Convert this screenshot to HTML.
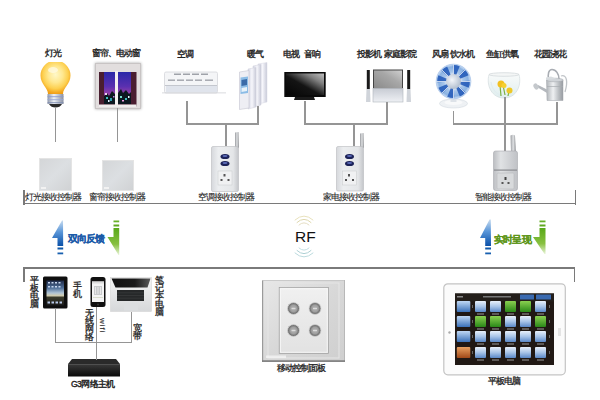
<!DOCTYPE html>
<html><head><meta charset="utf-8">
<style>
*{margin:0;padding:0;box-sizing:border-box}
html,body{width:600px;height:400px;overflow:hidden;background:#fff}
body{position:relative;font-family:"Liberation Sans",sans-serif;color:#2a2a2a}
.a{position:absolute}
.t{position:absolute;font-size:8.5px;line-height:9px;white-space:nowrap;letter-spacing:-1px;color:#1e1e1e;-webkit-text-stroke:0.1px #1e1e1e}
.v{position:absolute;font-size:8.5px;line-height:8px;width:9px;white-space:normal;word-break:break-all;text-align:center;color:#1e1e1e;-webkit-text-stroke:0.3px #1e1e1e}
.ln{position:absolute;background:#959595}
</style></head><body>

<!-- top labels -->
<div class="t" style="left:45px;top:49px;-webkit-text-stroke:0.35px #222">灯光</div>
<div class="t" style="left:92px;top:49px;-webkit-text-stroke:0.35px #222">窗帘、电动窗</div>
<div class="t" style="left:177px;top:50px;-webkit-text-stroke:0.35px #222">空调</div>
<div class="t" style="left:247px;top:50px;-webkit-text-stroke:0.35px #222">暖气</div>
<div class="t" style="left:283px;top:50px;word-spacing:4px;-webkit-text-stroke:0.35px #222">电视 音响</div>
<div class="t" style="left:357px;top:50px;word-spacing:1.5px;-webkit-text-stroke:0.35px #222">投影机 家庭影院</div>
<div class="t" style="left:432px;top:50px;word-spacing:1px;-webkit-text-stroke:0.35px #222">风扇 饮水机</div>
<div class="t" style="left:486px;top:50px;-webkit-text-stroke:0.35px #222">鱼缸供氧</div>
<div class="t" style="left:534px;top:50px;-webkit-text-stroke:0.35px #222">花园浇花</div>


<!-- bulb -->
<svg class="a" style="left:40px;top:62px" width="32" height="48" viewBox="0 0 32 48">
<defs>
<radialGradient id="bg1" cx="0.5" cy="0.42" r="0.6">
<stop offset="0" stop-color="#fff8c8"/><stop offset="0.4" stop-color="#ffe890"/><stop offset="0.7" stop-color="#fdd050"/><stop offset="0.9" stop-color="#f4a820"/><stop offset="1" stop-color="#ec9a16"/></radialGradient>
<linearGradient id="bb1" x1="0" x2="1"><stop offset="0" stop-color="#9098a8"/><stop offset="0.4" stop-color="#eef2f6"/><stop offset="1" stop-color="#8a90a0"/></linearGradient>
</defs>
<path d="M8,32 C8,26 0.5,22 0.5,13.5 A15,15 0 0 1 30.5,13.5 C30.5,22 23,26 23,32 Z" fill="url(#bg1)"/>
<rect x="7.5" y="32" width="16" height="10" fill="url(#bb1)"/>
<rect x="7.5" y="34" width="16" height="1.2" fill="#8a9ad0" opacity="0.7"/>
<rect x="7.5" y="37" width="16" height="1.2" fill="#98a8d8" opacity="0.7"/>
<rect x="7.5" y="40" width="16" height="1.2" fill="#7a8ab0" opacity="0.7"/>
<ellipse cx="13" cy="8" rx="5" ry="3" fill="#fffbe8" opacity="0.7"/>
<path d="M9,42 L22,42 Q20,45.5 15.5,45.5 Q11,45.5 9,42Z" fill="#2a2a2a"/>
</svg>

<!-- window -->
<svg class="a" style="left:95px;top:63px;filter:drop-shadow(0 0 1.5px rgba(0,0,0,0.35))" width="46" height="46" viewBox="0 0 46 46">
<defs>
<linearGradient id="sky" x1="0" y1="0" x2="0" y2="1"><stop offset="0" stop-color="#2a28a8"/><stop offset="0.45" stop-color="#5a30b0"/><stop offset="0.7" stop-color="#9a40a8"/><stop offset="1" stop-color="#203040"/></linearGradient>
</defs>
<rect x="0.5" y="0.5" width="45" height="45" fill="#e2dede" stroke="#c8c4c4"/>
<rect x="4" y="9" width="37.5" height="34.5" fill="#4a1e30"/>
<rect x="9" y="9" width="11" height="32" fill="url(#sky)"/>
<rect x="23" y="9" width="13" height="32" fill="url(#sky)"/>
<path d="M9,41 L9,33 L12,30 L14,33 L17,28 L20,31 L20,41Z" fill="#0c1820"/>
<path d="M23,41 L23,30 L26,26 L28,30 L31,27 L34,31 L36,29 L36,41Z" fill="#0c1820"/>
<rect x="11" y="34" width="2" height="2" fill="#40c0c0"/><rect x="15" y="35" width="2" height="3" fill="#30a0b0"/>
<rect x="25" y="33" width="2" height="2" fill="#70e0d0"/><rect x="30" y="35" width="2" height="2" fill="#40c0c0"/>
<rect x="10" y="30" width="2" height="2" fill="#f0d0f0"/><rect x="13" y="37" width="1.5" height="2" fill="#e0f0ff"/><rect x="27" y="37" width="2" height="1.5" fill="#f0a0e0"/><rect x="33" y="33" width="1.5" height="2" fill="#e0f8ff"/><rect x="18" y="33" width="1.5" height="1.5" fill="#c080e0"/>
<rect x="20" y="8" width="3" height="34" fill="#f4f0f0"/>
<rect x="4" y="41.5" width="37.5" height="2.5" fill="#f0eeee"/>
</svg>

<!-- AC -->
<svg class="a" style="left:162px;top:70px" width="64" height="27" viewBox="0 0 64 27">
<rect x="2.5" y="2" width="53" height="21" rx="1.5" fill="#f4f5f7" stroke="#d4d6da" stroke-width="0.8"/>
<g fill="#8a8e96"><rect x="12" y="3.6" width="7" height="1.2"/><rect x="21" y="3.6" width="7" height="1.2"/><rect x="30" y="3.6" width="7" height="1.2"/><rect x="39" y="3.6" width="7" height="1.2"/>
<rect x="6" y="9.6" width="7" height="1.1"/><rect x="15" y="9.6" width="7" height="1.1"/><rect x="24" y="9.6" width="7" height="1.1"/><rect x="33" y="9.6" width="7" height="1.1"/><rect x="43" y="9.6" width="8" height="1.1"/></g>
<rect x="3" y="15" width="52" height="0.8" fill="#b8bcc4"/>
<rect x="4" y="16" width="51" height="6" fill="#e0e4ec"/>
<rect x="0" y="22.5" width="64" height="0.8" fill="#d0d2d6"/>
</svg>

<!-- radiator -->
<svg class="a" style="left:238px;top:61px" width="32" height="50" viewBox="0 0 32 50">
<defs><linearGradient id="fin" x1="0" x2="1"><stop offset="0" stop-color="#d4d6e4"/><stop offset="0.5" stop-color="#f6f6fb"/><stop offset="1" stop-color="#c8cad8"/></linearGradient></defs>
<path d="M20,3 L29,1.5 L29,41 L20,43Z" fill="url(#fin)" stroke="#d8d8e4" stroke-width="0.5"/>
<path d="M15,5 L23,3.5 L23,44 L15,46Z" fill="url(#fin)" stroke="#d0d0dc" stroke-width="0.5"/>
<path d="M10,8 L18,6.5 L18,46 L10,48Z" fill="url(#fin)" stroke="#d0d0dc" stroke-width="0.5"/>
<path d="M1.5,11 L11,9.5 L11,47 L1.5,48.5Z" fill="#eeeef4" stroke="#c4c4d0" stroke-width="0.6"/>
<path d="M2.5,16.5 L10,15.5 L10,32 L2.5,33Z" fill="#8cbce6"/>
<path d="M3.5,19 L9,18 L9,24 L3.5,25Z" fill="#3a6aa8"/>
<path d="M3.5,27 L9,26 L9,30 L3.5,31Z" fill="#e8f2fa"/>
</svg>

<!-- TV -->
<svg class="a" style="left:284px;top:71px" width="42" height="30" viewBox="0 0 42 30">
<defs><linearGradient id="tvg" x1="0" y1="1" x2="1" y2="0"><stop offset="0" stop-color="#050505"/><stop offset="0.45" stop-color="#141414"/><stop offset="0.75" stop-color="#808080"/><stop offset="1" stop-color="#c0c0c0"/></linearGradient></defs>
<rect x="0.3" y="1" width="41.4" height="25" fill="#0a0a0a"/>
<rect x="2" y="2.5" width="38" height="21.5" fill="url(#tvg)"/>
<path d="M11,26 L30,26 L31,29 L10,29Z" fill="#1a1a1a"/>
</svg>

<!-- projector + speakers -->
<svg class="a" style="left:366px;top:69px" width="46" height="35" viewBox="0 0 46 35">
<defs><linearGradient id="pjs" x1="0" y1="1" x2="1" y2="0"><stop offset="0" stop-color="#8a8a8a"/><stop offset="0.6" stop-color="#a8a8a8"/><stop offset="1" stop-color="#d0d0d0"/></linearGradient>
<linearGradient id="pjb" x1="0" y1="0" x2="0" y2="1"><stop offset="0" stop-color="#c8ccd4"/><stop offset="1" stop-color="#eef0f4"/></linearGradient></defs>
<rect x="7" y="0.5" width="30" height="19" fill="#444"/>
<rect x="8" y="1.5" width="28" height="17.5" fill="url(#pjs)"/>
<rect x="7" y="19.5" width="30" height="13.5" fill="url(#pjb)" stroke="#b0b4bc" stroke-width="0.6"/>
<rect x="0.8" y="1" width="3" height="19" fill="#1a1a1a"/>
<path d="M0.5,20 L4,20 L4.5,33 L0,33Z" fill="#d0d4da"/>
<rect x="41.2" y="1" width="3" height="19" fill="#1a1a1a"/>
<path d="M41,20 L44.5,20 L45,33 L40.5,33Z" fill="#d0d4da"/>
</svg>

<!-- fan -->
<svg class="a" style="left:434px;top:63px" width="40" height="48" viewBox="0 0 40 48">
<defs><radialGradient id="fanb" cx="0.5" cy="0.5" r="0.5"><stop offset="0.4" stop-color="#e0e8f4"/><stop offset="0.55" stop-color="#a8c6ea"/><stop offset="0.85" stop-color="#8ab2e2"/><stop offset="1" stop-color="#d0e0f4"/></radialGradient>
<radialGradient id="fanc" cx="0.4" cy="0.4" r="0.6"><stop offset="0" stop-color="#f4f6fa"/><stop offset="1" stop-color="#b4c0d0"/></radialGradient></defs>
<ellipse cx="19.5" cy="40.5" rx="14" ry="4.5" fill="#eef1f4" stroke="#d4dae0" stroke-width="0.6"/>
<ellipse cx="19.5" cy="39.5" rx="9" ry="2.5" fill="#f8f9fa"/>
<rect x="16.5" y="33" width="6" height="6" fill="#dde2e8"/>
<circle cx="19.5" cy="18.5" r="17.3" fill="url(#fanb)"/>
<g fill="#2058b8" opacity="0.85">
<path d="M19.5,18.5 L16,2.5 Q20,1.5 23,2.5Z" transform="rotate(10 19.5 18.5)"/>
<path d="M19.5,18.5 L16,2.5 Q20,1.5 23,2.5Z" transform="rotate(55 19.5 18.5)"/>
<path d="M19.5,18.5 L16,2.5 Q20,1.5 23,2.5Z" transform="rotate(100 19.5 18.5)"/>
<path d="M19.5,18.5 L16,2.5 Q20,1.5 23,2.5Z" transform="rotate(145 19.5 18.5)"/>
<path d="M19.5,18.5 L16,2.5 Q20,1.5 23,2.5Z" transform="rotate(190 19.5 18.5)"/>
<path d="M19.5,18.5 L16,2.5 Q20,1.5 23,2.5Z" transform="rotate(235 19.5 18.5)"/>
<path d="M19.5,18.5 L16,2.5 Q20,1.5 23,2.5Z" transform="rotate(280 19.5 18.5)"/>
<path d="M19.5,18.5 L16,2.5 Q20,1.5 23,2.5Z" transform="rotate(325 19.5 18.5)"/>
</g>
<g stroke="#f0f5fc" stroke-width="0.9" opacity="0.85">
<line x1="19.5" y1="1" x2="19.5" y2="36"/><line x1="2" y1="18.5" x2="37" y2="18.5"/>
<line x1="7.1" y1="6.1" x2="31.9" y2="30.9"/><line x1="31.9" y1="6.1" x2="7.1" y2="30.9"/>
</g>
<circle cx="19.5" cy="18.5" r="17.3" fill="none" stroke="#a8c4e8" stroke-width="0.8"/>
<circle cx="19.5" cy="18.5" r="7.5" fill="url(#fanc)"/>
</svg>

<!-- fishbowl -->
<svg class="a" style="left:487px;top:72px" width="34" height="28" viewBox="0 0 34 28">
<defs><linearGradient id="fbw" x1="0" y1="0" x2="0" y2="1"><stop offset="0" stop-color="#f8fafa"/><stop offset="1" stop-color="#dfeeee"/></linearGradient></defs>
<path d="M2,2.5 C-1,14 5,26 17,26 C29,26 35,14 32,2.5" fill="url(#fbw)" stroke="#d8e0e2" stroke-width="0.8"/>
<ellipse cx="17" cy="2.5" rx="15" ry="1.8" fill="#f4f6f6" stroke="#d0d6d8" stroke-width="0.7"/>
<path d="M4,10 C5,18 10,23 17,24" fill="none" stroke="#e0ecf0" stroke-width="1"/>
<path d="M13,13 L14,24 M16,13 L18,23 M22,19 L21,24" stroke="#7cb040" stroke-width="1.2" fill="none"/>
<circle cx="14" cy="12" r="3.5" fill="#f2c020"/><circle cx="17" cy="13.5" r="2.5" fill="#f6d030"/>
<circle cx="22.5" cy="18.5" r="3" fill="#eec828"/>
</svg>

<!-- watering can -->
<svg class="a" style="left:532px;top:68px" width="40" height="36" viewBox="0 0 40 36">
<defs><linearGradient id="wc" x1="0" x2="1"><stop offset="0" stop-color="#b0b4b8"/><stop offset="0.4" stop-color="#eef0f2"/><stop offset="0.75" stop-color="#b8bcc0"/><stop offset="1" stop-color="#989ca2"/></linearGradient></defs>
<path d="M17,12 C15,6 17,1.5 20,1.5 C24,1.5 27,6 27,11" fill="none" stroke="#a8acb2" stroke-width="1.6"/>
<path d="M29,8 C35,6 36,14 33,24" fill="none" stroke="#c0c4c8" stroke-width="1.3"/>
<path d="M14.5,12 L31,12 L31,32.5 L15,32.5Z" fill="url(#wc)" stroke="#a0a4aa" stroke-width="0.5"/>
<ellipse cx="23" cy="12" rx="8.3" ry="1.8" fill="#d0d4d8" stroke="#a0a4aa" stroke-width="0.5"/>
<path d="M14,9.5 L19,8.5 L25,11 L14,12Z" fill="#d8dcdf"/>
<rect x="15" y="18" width="16" height="0.7" fill="#a8acb0"/>
<path d="M15,25 L5,19 L6,17 L15,21.5Z" fill="#b4b8bd"/>
<ellipse cx="4" cy="18.5" rx="2.3" ry="3.3" fill="#c4c8cc" transform="rotate(-30 4 18.5)"/>
</svg>

<!-- lines top -->
<div class="ln" style="left:54.8px;top:108px;width:1.5px;height:34px"></div>
<div class="ln" style="left:116.8px;top:108px;width:1.5px;height:34px"></div>
<div class="ln" style="left:186.3px;top:101px;width:1.6px;height:23.5px"></div>
<div class="ln" style="left:186.3px;top:123px;width:72.5px;height:1.7px"></div>
<div class="ln" style="left:257.3px;top:106px;width:1.6px;height:18.5px"></div>
<div class="ln" style="left:225.3px;top:123px;width:1.6px;height:23px"></div>
<div class="ln" style="left:304.3px;top:101px;width:1.6px;height:23.5px"></div>
<div class="ln" style="left:304.3px;top:123px;width:83.5px;height:1.7px"></div>
<div class="ln" style="left:386.3px;top:102px;width:1.6px;height:22.5px"></div>
<div class="ln" style="left:353px;top:123px;width:1.6px;height:23px"></div>
<div class="ln" style="left:452.5px;top:111px;width:1.6px;height:13.5px"></div>
<div class="ln" style="left:452.5px;top:123px;width:105px;height:1.7px"></div>
<div class="ln" style="left:556px;top:102px;width:1.6px;height:22.5px"></div>
<div class="ln" style="left:504.2px;top:97px;width:1.6px;height:54px"></div>


<!-- switch panels -->
<div class="a" style="left:39px;top:158px;width:33px;height:33px;background:linear-gradient(135deg,#d4d6d8,#dcdfe2 50%,#d0d2d4);border:0.5px solid #e4e4e4"></div>
<div class="a" style="left:41px;top:187px;width:5px;height:1.5px;background:#f2f2f2"></div>
<div class="a" style="left:102px;top:160px;width:32px;height:31px;background:linear-gradient(135deg,#d4d6d8,#dcdfe2 50%,#d0d2d4);border:0.5px solid #e4e4e4"></div>
<div class="a" style="left:104px;top:187px;width:5px;height:1.5px;background:#f2f2f2"></div>

<!-- controller 1 -->
<svg class="a" style="left:210px;top:131px" width="32" height="62" viewBox="0 0 32 62">
<defs><linearGradient id="cb" x1="0" x2="1"><stop offset="0" stop-color="#d6d8dc"/><stop offset="0.25" stop-color="#eceef0"/><stop offset="0.8" stop-color="#e4e6e8"/><stop offset="1" stop-color="#c4c6ca"/></linearGradient>
<linearGradient id="ant" x1="0" x2="1"><stop offset="0" stop-color="#9a9ca0"/><stop offset="0.5" stop-color="#e0e2e4"/><stop offset="1" stop-color="#8a8c90"/></linearGradient></defs>
<path d="M25,1.5 L28.5,1 L29,17 L25,17Z" fill="url(#ant)"/>
<rect x="1.5" y="15.5" width="27" height="45" rx="1.5" fill="url(#cb)" stroke="#b8babe" stroke-width="0.6"/>
<ellipse cx="15" cy="25.5" rx="4.5" ry="2.6" fill="#1c2258"/><ellipse cx="15" cy="25" rx="2.5" ry="1" fill="#5a6ab8"/>
<ellipse cx="15" cy="32.5" rx="4.5" ry="2.6" fill="#1c2258"/><ellipse cx="15" cy="32" rx="2.5" ry="1" fill="#5a6ab8"/>
<rect x="8" y="40" width="14" height="14" fill="#f0f1f2" stroke="#c8cacc" stroke-width="0.5"/>
<rect x="13.5" y="43" width="2" height="2.5" fill="#555"/><rect x="10.5" y="48" width="2" height="2" fill="#555"/><rect x="17.5" y="48" width="2" height="2" fill="#555"/>
</svg>

<!-- controller 2 -->
<svg class="a" style="left:335px;top:131px" width="32" height="62" viewBox="0 0 32 62">
<path d="M25,2.5 L28.5,2 L29,17 L25,17Z" fill="url(#ant)"/>
<rect x="1.5" y="15.5" width="27" height="44.5" rx="1.5" fill="url(#cb)" stroke="#b8babe" stroke-width="0.6"/>
<ellipse cx="14.5" cy="25.5" rx="4.5" ry="2.6" fill="#1c2258"/><ellipse cx="14.5" cy="25" rx="2.5" ry="1" fill="#5a6ab8"/>
<ellipse cx="14.5" cy="32.5" rx="4.5" ry="2.6" fill="#1c2258"/><ellipse cx="14.5" cy="32" rx="2.5" ry="1" fill="#5a6ab8"/>
<rect x="7.5" y="40" width="14" height="14" fill="#f0f1f2" stroke="#c8cacc" stroke-width="0.5"/>
<rect x="13" y="43" width="2" height="2.5" fill="#555"/><rect x="10" y="48" width="2" height="2" fill="#555"/><rect x="17" y="48" width="2" height="2" fill="#555"/>
</svg>

<!-- controller 3 -->
<svg class="a" style="left:492px;top:134px" width="28" height="58" viewBox="0 0 28 58">
<defs><linearGradient id="cb3" x1="0" x2="1"><stop offset="0" stop-color="#bcbec2"/><stop offset="0.3" stop-color="#e0e2e4"/><stop offset="1" stop-color="#c0c2c6"/></linearGradient></defs>
<path d="M18.5,1.5 Q21,0 23,1.5 L24,19 L19,19Z" fill="url(#ant)"/>
<rect x="1.5" y="17" width="24" height="39.5" rx="2" fill="url(#cb3)" stroke="#a8aaae" stroke-width="0.6"/>
<rect x="2" y="35.5" width="23" height="1.2" fill="#8a8c90"/>
<rect x="5" y="39" width="17" height="16" rx="1" fill="#d8dadc" stroke="#b0b2b6" stroke-width="0.5"/>
<rect x="12.5" y="43" width="2" height="3" fill="#444"/><rect x="9.5" y="48" width="2" height="2" fill="#555"/><rect x="15.5" y="48" width="2" height="2" fill="#555"/>
</svg>

<!-- left arrows -->
<svg class="a" style="left:50px;top:218px" width="75" height="40" viewBox="0 0 75 40">
<defs><linearGradient id="bl" x1="0" y1="0" x2="0" y2="1"><stop offset="0" stop-color="#c8dcf0"/><stop offset="0.45" stop-color="#5a96d8"/><stop offset="1" stop-color="#0a50a8"/></linearGradient>
<linearGradient id="gr" x1="0" y1="0" x2="0" y2="1"><stop offset="0" stop-color="#58a818"/><stop offset="0.6" stop-color="#88c040"/><stop offset="1" stop-color="#e8f4d8"/></linearGradient></defs>
<path d="M12,2.5 L13,2.5 L13.2,28 L7.5,28 L7.5,20 L2,20 Z" fill="url(#bl)"/>
<rect x="7.5" y="29.5" width="5.7" height="2" fill="#1058a8"/>
<rect x="7.5" y="34.5" width="5.7" height="1.8" fill="#1860b0"/>
<rect x="63.5" y="2.5" width="5.7" height="1.8" fill="#68b028"/>
<rect x="63.5" y="6.5" width="5.7" height="2" fill="#60a820"/>
<path d="M63.5,10 L69.2,10 L69.2,37 L68.5,37 L57.5,19 L63.5,19 Z" fill="url(#gr)"/>
</svg>
<div class="t" style="left:67.5px;top:234px;font-size:9.5px;line-height:10px;color:#1a5aa8;font-weight:bold;letter-spacing:-0.8px;-webkit-text-stroke:0.2px #1a5aa8">双向反馈</div>

<!-- right arrows -->
<svg class="a" style="left:478px;top:218px" width="75" height="40" viewBox="0 0 75 40">
<path d="M11.5,1.5 L12.8,1.5 L13,28 L7.2,28 L7.2,20 L2,20 Z" fill="url(#bl)"/>
<rect x="7.2" y="29.5" width="5.8" height="2" fill="#1058a8"/>
<rect x="7.2" y="34.5" width="5.8" height="1.8" fill="#1860b0"/>
<rect x="61.5" y="2.5" width="6" height="1.8" fill="#68b028"/>
<rect x="61.5" y="6.5" width="6" height="2" fill="#60a820"/>
<path d="M61.5,10 L67.5,10 L67.5,36 L66.5,36 L55,19 L61.5,19 Z" fill="url(#gr)"/>
</svg>
<div class="t" style="left:494px;top:235px;font-size:9.5px;line-height:10px;color:#5e961a;font-weight:bold;letter-spacing:-0.8px;-webkit-text-stroke:0.2px #5e961a">实时呈现</div>

<!-- RF waves -->
<svg class="a" style="left:292px;top:210px" width="24" height="54" viewBox="0 0 24 54">
<g fill="none" stroke-width="1" stroke-linecap="round" opacity="0.85">
<path d="M3,10 Q12,2 21,10" stroke="#e4dcb0"/>
<path d="M5,12.5 Q12,6 19,12.5" stroke="#d8d0a0"/>
<path d="M7,15 Q12,10.5 17,15" stroke="#e0d8b8"/>
<path d="M3,43 Q12,51 21,43" stroke="#b0d4d8"/>
<path d="M5,40.5 Q12,47 19,40.5" stroke="#a0c8cc"/>
<path d="M7,38 Q12,42.5 17,38" stroke="#b8d8dc"/>
</g>
</svg>

<!-- controller labels -->
<div class="t" style="left:25px;top:193px">灯光接收控制器</div>
<div class="t" style="left:89px;top:193px">窗帘接收控制器</div>
<div class="t" style="left:198px;top:193px">空调接收控制器</div>
<div class="t" style="left:323px;top:193px">家电接收控制器</div>
<div class="t" style="left:475px;top:193px">智能接收控制器</div>

<!-- top bracket -->
<div class="ln" style="left:23px;top:189.5px;width:1.6px;height:15px;background:#7a7a7a"></div>
<div class="ln" style="left:23px;top:202.7px;width:553px;height:1.7px;background:#7a7a7a"></div>
<div class="ln" style="left:574.5px;top:189.5px;width:1.6px;height:15px;background:#7a7a7a"></div>

<!-- bottom bracket -->
<div class="ln" style="left:23px;top:267.3px;width:1.6px;height:15px;background:#7a7a7a"></div>
<div class="ln" style="left:23px;top:267.3px;width:552px;height:1.7px;background:#7a7a7a"></div>
<div class="ln" style="left:573.5px;top:267.3px;width:1.6px;height:15px;background:#7a7a7a"></div>

<!-- RF -->
<div class="a" style="left:295px;top:229px;font-size:15.5px;line-height:16px;color:#111">RF</div>

<!-- bottom left labels -->
<div class="v" style="left:30px;top:276px">平板电脑</div>
<div class="v" style="left:73px;top:282px">手机</div>
<div class="v" style="left:155px;top:276px">笔记本电脑</div>
<div class="v" style="left:85px;top:309px">无线网络</div>
<div class="v" style="left:133px;top:324px">宽带</div>
<div class="a" style="font-size:8px;line-height:7px;letter-spacing:1px;transform:rotate(90deg);transform-origin:0 0;left:105.5px;top:318px;color:#1e1e1e;-webkit-text-stroke:0.1px #1e1e1e">wifi</div>
<div class="t" style="left:71px;top:380px;font-size:8.5px;letter-spacing:-0.6px;-webkit-text-stroke:0.4px #1e1e1e">G3网络主机</div>
<div class="t" style="left:277px;top:364px;-webkit-text-stroke:0.3px #222">移动控制面板</div>
<div class="t" style="left:488px;top:377px;-webkit-text-stroke:0.3px #222">平板电脑</div>


<!-- small ipad -->
<svg class="a" style="left:43px;top:276px" width="25" height="33" viewBox="0 0 25 33">
<defs><linearGradient id="ips" x1="0" y1="0" x2="0" y2="1"><stop offset="0" stop-color="#1e2a48"/><stop offset="0.3" stop-color="#50709a"/><stop offset="0.5" stop-color="#b0c4d4"/><stop offset="0.6" stop-color="#d0ccb0"/><stop offset="0.68" stop-color="#3a3a2a"/><stop offset="0.85" stop-color="#2a2a22"/><stop offset="1" stop-color="#1a1a1a"/></linearGradient></defs>
<rect x="0" y="0.5" width="24.5" height="32" rx="1.5" fill="#0e0e0e"/>
<rect x="3.5" y="4.5" width="17.5" height="25" fill="url(#ips)"/>
<g fill="#c8d8f0"><rect x="5" y="6" width="2" height="1.5"/><rect x="8.5" y="6" width="2" height="1.5"/><rect x="12" y="6" width="2" height="1.5"/><rect x="15.5" y="6" width="2" height="1.5"/>
<rect x="5" y="10" width="2" height="1.5"/><rect x="8.5" y="10" width="2" height="1.5"/><rect x="12" y="10" width="2" height="1.5"/><rect x="15.5" y="10" width="2" height="1.5"/></g>
<g fill="#b8c8e8"><rect x="4.5" y="25.5" width="2.5" height="2"/><rect x="8.5" y="25.5" width="2.5" height="2"/><rect x="12.5" y="25.5" width="2.5" height="2"/><rect x="16.5" y="25.5" width="2.5" height="2"/></g>
</svg>

<!-- phone -->
<svg class="a" style="left:89.5px;top:276.8px" width="16" height="31" viewBox="0 0 16 31">
<rect x="0.5" y="0" width="15" height="30" rx="2.5" fill="#111"/>
<rect x="2" y="4.5" width="12" height="20.5" fill="#f4f4f4"/>
<rect x="2" y="4.5" width="12" height="2" fill="#dcdcdc"/>
<g fill="#c8cacc"><rect x="4" y="9" width="8" height="9"/></g>
<g fill="#e8e8e8"><rect x="5" y="10" width="1" height="7"/><rect x="7.5" y="10" width="1" height="7"/><rect x="10" y="10" width="1" height="7"/></g>
<rect x="3" y="20" width="10" height="1" fill="#d8dccc"/>
<circle cx="8" cy="27.5" r="1.1" fill="#333"/>
</svg>

<!-- laptop -->
<svg class="a" style="left:110px;top:277px" width="42" height="35" viewBox="0 0 42 35">
<defs><linearGradient id="lpt" x1="0" y1="0" x2="0" y2="1"><stop offset="0" stop-color="#f4f4f4"/><stop offset="1" stop-color="#d6d8da"/></linearGradient>
<linearGradient id="lps" x1="0" y1="0" x2="1" y2="0"><stop offset="0" stop-color="#101010"/><stop offset="0.6" stop-color="#1a1a1a"/><stop offset="1" stop-color="#5a5a5a"/></linearGradient></defs>
<rect x="0.5" y="0.5" width="41" height="34" fill="url(#lpt)" stroke="#d0d0d0" stroke-width="0.5"/>
<path d="M1.5,1.5 L40.5,1.5 L37.5,10.5 L5.5,10.5Z" fill="url(#lps)"/>
<rect x="7" y="13" width="27" height="11" fill="#262829"/>
<g stroke="#4a4c4e" stroke-width="0.4"><line x1="7" y1="15.8" x2="34" y2="15.8"/><line x1="7" y1="18.5" x2="34" y2="18.5"/><line x1="7" y1="21.2" x2="34" y2="21.2"/></g>
<rect x="14" y="26" width="14" height="7.5" fill="#dcdee0"/>
</svg>

<!-- router -->
<svg class="a" style="left:67px;top:358px" width="54" height="20" viewBox="0 0 54 20">
<defs><linearGradient id="rt" x1="0" y1="0" x2="0" y2="1"><stop offset="0" stop-color="#3a3a3a"/><stop offset="1" stop-color="#0a0a0a"/></linearGradient></defs>
<path d="M5,1 L49,1 L53,6 L1,6Z" fill="#2a2a2a"/>
<rect x="1" y="6" width="52" height="12.5" fill="url(#rt)"/>
<rect x="1" y="6" width="52" height="0.8" fill="#555"/>
</svg>

<!-- control panel -->
<svg class="a" style="left:261.5px;top:279.5px" width="84" height="83" viewBox="0 0 84 83">
<defs><linearGradient id="cpf" x1="0" y1="0" x2="1" y2="1"><stop offset="0" stop-color="#e8e8e8"/><stop offset="0.5" stop-color="#d8d8d8"/><stop offset="1" stop-color="#cfcfcf"/></linearGradient>
<linearGradient id="cpi" x1="0" y1="0" x2="0" y2="1"><stop offset="0" stop-color="#f0f0f0"/><stop offset="1" stop-color="#e2e2e2"/></linearGradient>
<radialGradient id="btn" cx="0.5" cy="0.5" r="0.5"><stop offset="0" stop-color="#b4b4b4"/><stop offset="0.55" stop-color="#a0a0a0"/><stop offset="0.8" stop-color="#787878"/><stop offset="1" stop-color="#6a6a6a"/></radialGradient></defs>
<rect x="0" y="0" width="83" height="81.5" fill="url(#cpf)"/>
<rect x="0" y="0" width="1.2" height="81.5" fill="#9a9a9a"/>
<rect x="0" y="0" width="83" height="0.8" fill="#c4c4c4"/>
<rect x="82" y="0" width="1" height="81.5" fill="#b8b8b8"/>
<rect x="0" y="80.3" width="83" height="1.6" fill="#7a7a7a"/>
<rect x="6" y="3" width="71" height="75" fill="none" stroke="#e6e6e6" stroke-width="1"/>
<rect x="17.2" y="7.5" width="49.3" height="66" fill="url(#cpi)" stroke="#9c9c9c" stroke-width="0.7"/>
<rect x="18.5" y="8.8" width="46.7" height="63.4" fill="none" stroke="#f8f8f8" stroke-width="0.8"/>
<circle cx="31.5" cy="28.5" r="6" fill="url(#btn)" stroke="#d4d4d4" stroke-width="0.8"/>
<circle cx="53" cy="28.5" r="6" fill="url(#btn)" stroke="#d4d4d4" stroke-width="0.8"/>
<circle cx="31.5" cy="50.5" r="6" fill="url(#btn)" stroke="#d4d4d4" stroke-width="0.8"/>
<circle cx="53" cy="50.5" r="6" fill="url(#btn)" stroke="#d4d4d4" stroke-width="0.8"/>
<g fill="#e4e4e4" opacity="0.85"><rect x="29.5" y="27.8" width="4" height="1.4"/><rect x="51" y="27.8" width="4" height="1.4"/><rect x="29.5" y="49.8" width="4" height="1.4"/><rect x="51" y="49.8" width="4" height="1.4"/></g>
<rect x="4" y="75.5" width="20" height="2.5" fill="#f4f4f4" opacity="0.8"/>
</svg>

<!-- big tablet -->
<svg class="a" style="left:443px;top:283px" width="124" height="93" viewBox="0 0 124 93">
<defs><linearGradient id="ico" x1="0" y1="0" x2="0" y2="1"><stop offset="0" stop-color="#e8f0fa"/><stop offset="0.5" stop-color="#a8c4e8"/><stop offset="1" stop-color="#5a88c8"/></linearGradient>
<linearGradient id="icg" x1="0" y1="0" x2="0" y2="1"><stop offset="0" stop-color="#8ad050"/><stop offset="1" stop-color="#2a8818"/></linearGradient>
<linearGradient id="ico2" x1="0" y1="0" x2="0" y2="1"><stop offset="0" stop-color="#c0d8f4"/><stop offset="1" stop-color="#3a70b8"/></linearGradient>
<linearGradient id="ico3" x1="0" y1="0" x2="0" y2="1"><stop offset="0" stop-color="#e8a060"/><stop offset="1" stop-color="#a04818"/></linearGradient></defs>
<rect x="0.8" y="0.8" width="121.5" height="91" rx="4" fill="#fbfbfb" stroke="#c4c4c4" stroke-width="1.2"/>
<rect x="12" y="10.5" width="99" height="71.5" fill="#201814"/>
<rect x="12" y="10.5" width="99" height="8" fill="#231e1a"/>
<rect x="77" y="11.5" width="14" height="5" rx="0.5" fill="#3a6ab0"/>
<rect x="93" y="11.5" width="15" height="5" rx="0.5" fill="#3a6ab0"/>
<rect x="14" y="13" width="6" height="1.5" fill="#888"/>
<rect x="40" y="13" width="28" height="1.5" fill="#777"/>
<rect x="13.8" y="18" width="13.5" height="11" rx="1" fill="url(#ico2)"/>
<rect x="13.8" y="33" width="13.5" height="11" rx="1" fill="url(#ico2)"/>
<rect x="13.8" y="48" width="13.5" height="11" rx="1" fill="url(#ico2)"/>
<rect x="13.8" y="64" width="13.5" height="11" rx="1" fill="url(#ico3)"/>
<g id="grid">
<rect x="32" y="18" width="11" height="11" rx="1" fill="url(#ico)"/><rect x="47" y="18" width="11" height="11" rx="1" fill="url(#ico)"/><rect x="62" y="18" width="11" height="11" rx="1" fill="url(#icg)"/><rect x="77" y="18" width="11" height="11" rx="1" fill="url(#icg)"/><rect x="92" y="18" width="11" height="11" rx="1" fill="url(#ico)"/>
<rect x="32" y="33" width="11" height="11" rx="1" fill="url(#icg)"/><rect x="47" y="33" width="11" height="11" rx="1" fill="url(#icg)"/><rect x="62" y="33" width="11" height="11" rx="1" fill="url(#ico)"/><rect x="77" y="33" width="11" height="11" rx="1" fill="url(#ico)"/><rect x="92" y="33" width="11" height="11" rx="1" fill="url(#icg)"/>
<rect x="32" y="48" width="11" height="11" rx="1" fill="url(#ico)"/><rect x="47" y="48" width="11" height="11" rx="1" fill="url(#ico)"/><rect x="62" y="48" width="11" height="11" rx="1" fill="url(#ico)"/><rect x="77" y="48" width="11" height="11" rx="1" fill="url(#ico)"/><rect x="92" y="48" width="11" height="11" rx="1" fill="url(#ico)"/>
<rect x="32" y="64" width="11" height="11" rx="1" fill="url(#ico)"/><rect x="47" y="64" width="11" height="11" rx="1" fill="url(#ico)"/><rect x="62" y="64" width="11" height="11" rx="1" fill="url(#ico)"/><rect x="77" y="64" width="11" height="11" rx="1" fill="url(#ico)"/><rect x="92" y="64" width="11" height="11" rx="1" fill="url(#ico)"/>
</g>
<g fill="#9a9a9a"><rect x="34" y="30.5" width="7" height="1"/><rect x="49" y="30.5" width="7" height="1"/><rect x="64" y="30.5" width="7" height="1"/><rect x="79" y="30.5" width="7" height="1"/><rect x="94" y="30.5" width="7" height="1"/>
<rect x="34" y="45.5" width="7" height="1"/><rect x="49" y="45.5" width="7" height="1"/><rect x="64" y="45.5" width="7" height="1"/><rect x="79" y="45.5" width="7" height="1"/><rect x="94" y="45.5" width="7" height="1"/>
<rect x="34" y="60.5" width="7" height="1"/><rect x="49" y="60.5" width="7" height="1"/><rect x="64" y="60.5" width="7" height="1"/><rect x="79" y="60.5" width="7" height="1"/><rect x="94" y="60.5" width="7" height="1"/>
<rect x="34" y="76.5" width="7" height="1"/><rect x="49" y="76.5" width="7" height="1"/><rect x="64" y="76.5" width="7" height="1"/><rect x="79" y="76.5" width="7" height="1"/><rect x="94" y="76.5" width="7" height="1"/></g>
<g fill="#666"><rect x="29" y="22" width="1" height="3"/><rect x="29" y="37" width="1" height="3"/><rect x="29" y="52" width="1" height="3"/><rect x="29" y="68" width="1" height="3"/>
<rect x="106" y="22" width="1" height="3"/><rect x="106" y="37" width="1" height="3"/><rect x="106" y="52" width="1" height="3"/><rect x="106" y="68" width="1" height="3"/></g>
<circle cx="6.5" cy="49.5" r="1.2" fill="#aaa"/>
<rect x="115" y="45" width="3" height="8" fill="#e4e4e4"/>
</svg>

<!-- bottom lines -->
<div class="ln" style="left:55px;top:308px;width:1px;height:35px"></div>
<div class="ln" style="left:55px;top:342px;width:77px;height:1px"></div>
<div class="ln" style="left:131px;top:312px;width:1px;height:31px"></div>
<div class="ln" style="left:96px;top:307px;width:1px;height:53px"></div>

</body></html>
